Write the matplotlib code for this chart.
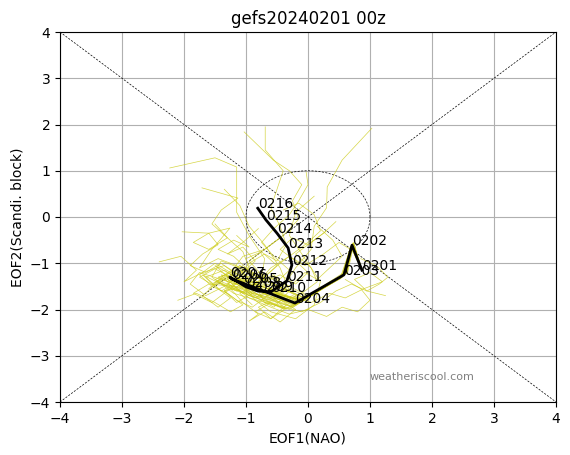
import numpy as np
import matplotlib
matplotlib.use("Agg")
import matplotlib.pyplot as plt

title = "gefs20240201 00z"
dates = ["0201", "0202", "0203", "0204", "0205", "0206", "0207", "0208",
         "0209", "0210", "0211", "0212", "0213", "0214", "0215", "0216"]

# ensemble mean trajectory (EOF1, EOF2)
mean_x = [0.87, 0.71, 0.58, -0.21, -1.05, -1.23, -1.26, -1.00,
          -0.81, -0.60, -0.34, -0.26, -0.32, -0.50, -0.68, -0.81]
mean_y = [-1.15, -0.61, -1.25, -1.86, -1.43, -1.34, -1.30, -1.51,
          -1.60, -1.62, -1.38, -1.04, -0.67, -0.35, -0.06, 0.19]

# individual members
members_x = [
    [0.87, 0.72, 0.62, -0.10, -0.85, -1.30, -1.50, -1.20, -0.90, -0.55, -0.30, -0.45, -0.70, -0.95, -1.10, -1.35],
    [0.87, 0.70, 0.55, -0.25, -1.10, -1.45, -1.20, -0.85, -0.60, -0.20, 0.10, 0.20, -0.05, -0.30, -0.20, 0.10],
    [0.87, 0.73, 0.60, -0.05, -0.70, -1.00, -0.80, -0.55, -0.40, -0.20, 0.05, 0.10, 0.30, 0.31, 0.55, 1.03],
    [0.87, 0.69, 0.52, -0.30, -1.20, -1.55, -1.40, -1.10, -0.75, -0.70, -0.95, -1.15, -1.15, -1.15, -1.50, -2.23],
    [0.87, 0.71, 0.58, -0.15, -0.90, -1.10, -0.95, -0.70, -0.50, -0.35, -0.45, -0.60, -0.50, -0.40, -0.69, -0.69],
    [0.87, 0.74, 0.64, 0.00, -0.60, -0.95, -1.25, -1.05, -0.70, -0.40, -0.15, -0.25, -0.10, -0.30, -0.56, -1.03],
    [0.87, 0.70, 0.57, -0.20, -1.00, -1.35, -1.65, -1.40, -1.20, -0.95, -1.05, -1.30, -1.55, -1.40, -1.13, -1.71],
    [0.87, 0.71, 0.56, -0.28, -1.15, -1.60, -1.85, -1.55, -1.25, -1.05, -1.35, -1.70, -2.00, -1.80, -2.05, -2.40],
    [0.87, 0.72, 0.59, -0.12, -0.95, -1.40, -1.20, -0.95, -1.15, -1.45, -1.75, -1.55, -1.39, -1.26, -1.60, -2.03],
    [0.87, 0.73, 0.63, -0.05, -0.80, -0.70, -0.40, -0.10, 0.20, 0.45, 0.70, 0.95, 1.15, 1.29, 1.10, 0.85],
    [0.87, 0.70, 0.54, -0.30, -0.95, -1.20, -0.95, -0.60, -0.30, 0.00, 0.30, 0.55, 0.80, 1.00, 0.85, 0.60],
    [0.87, 0.71, 0.60, -0.18, -0.90, -1.25, -1.05, -0.80, -0.95, -0.70, -0.45, -0.20, -0.50, -0.80, -0.60, -0.35],
    [0.87, 0.72, 0.61, -0.08, -0.75, -1.10, -1.30, -1.00, -0.70, -0.45, -0.25, 0.00, 0.20, 0.10, -0.15, -0.40],
    [0.87, 0.69, 0.53, -0.35, -1.25, -1.70, -1.50, -1.25, -1.45, -1.70, -1.45, -1.15, -0.85, -1.10, -1.35, -1.60],
    [0.87, 0.73, 0.62, -0.02, -0.65, -0.90, -0.65, -0.35, -0.55, -0.80, -0.60, -0.30, -0.05, 0.25, 0.50, 0.75],
    [0.87, 0.70, 0.56, -0.22, -1.05, -1.40, -1.75, -1.90, -1.65, -1.35, -1.10, -0.85, -1.05, -1.30, -1.05, -0.80],
    [0.87, 0.72, 0.58, -0.15, -0.85, -1.15, -1.00, -0.75, -0.50, -0.25, -0.05, 0.15, 0.35, 0.55, 0.40, 0.15],
    [0.87, 0.71, 0.59, -0.20, -1.00, -1.30, -1.55, -1.30, -1.05, -0.80, -0.55, -0.75, -0.95, -0.70, -0.45, -0.65],
    [0.87, 0.73, 0.61, -0.10, -0.80, -1.05, -0.80, -0.50, -0.30, -0.55, -0.75, -0.55, -0.30, -0.15, 0.00, -0.03],
    [0.87, 0.70, 0.55, -0.27, -1.10, -1.50, -1.25, -1.50, -1.75, -1.55, -1.30, -1.05, -1.25, -1.50, -1.80, -2.10],
    [0.87, 0.72, 0.60, -0.12, -0.90, -1.20, -1.45, -1.10, -0.85, -1.05, -1.30, -1.05, -0.75, -0.50, -0.75, -1.00],
    [0.87, 0.71, 0.57, -0.18, -0.95, -1.30, -1.10, -0.85, -0.60, -0.35, -0.10, 0.15, 0.05, -0.20, 0.05, 0.30],
    [0.87, 0.72, 0.59, -0.14, -0.88, -1.18, -1.40, -1.65, -1.90, -1.70, -1.45, -1.60, -1.85, -1.60, -1.30, -1.50],
    [0.87, 0.71, 0.61, -0.06, -0.72, -0.50, -0.25, 0.05, 0.35, 0.60, 0.90, 1.20, 1.00, 0.75, 0.95, 1.25],
    [0.87, 0.70, 0.56, -0.24, -1.02, -1.35, -1.15, -0.90, -1.10, -1.35, -1.15, -0.90, -0.65, -0.85, -1.10, -0.90],
    [0.87, 0.73, 0.62, -0.03, -0.68, -0.95, -0.70, -0.45, -0.20, 0.00, -0.20, -0.45, -0.25, 0.00, 0.25, 0.45],
    [0.87, 0.71, 0.57, -0.19, -0.97, -1.28, -1.52, -1.75, -1.50, -1.25, -1.00, -1.20, -1.45, -1.20, -0.95, -1.15],
    [0.87, 0.72, 0.60, -0.11, -0.82, -1.12, -0.88, -0.62, -0.38, -0.60, -0.85, -0.60, -0.35, -0.55, -0.30, -0.05],
]
members_y = [
    [-1.15, -0.58, -1.22, -1.80, -1.55, -1.20, -1.05, -1.40, -1.70, -1.95, -1.60, -1.10, -0.60, -0.20, 0.25, 0.60],
    [-1.15, -0.62, -1.30, -1.95, -1.60, -1.40, -1.25, -1.80, -2.05, -2.20, -1.90, -1.40, -0.90, -0.40, 0.10, 0.45],
    [-1.15, -0.55, -1.18, -1.75, -1.35, -1.10, -1.45, -1.60, -1.50, -1.10, -0.70, -0.20, 0.20, 0.65, 1.23, 1.92],
    [-1.15, -0.65, -1.32, -2.00, -1.65, -1.30, -0.95, -1.10, -1.35, -0.90, -0.40, 0.10, 0.58, 1.08, 1.28, 1.06],
    [-1.15, -0.60, -1.25, -1.85, -1.50, -1.25, -1.00, -0.80, -0.95, -0.60, -0.20, 0.20, 0.60, 1.00, 1.45, 1.95],
    [-1.15, -0.57, -1.20, -1.70, -1.30, -1.50, -1.20, -0.85, -0.70, -0.40, -0.05, 0.35, 0.70, 1.00, 1.23, 1.84],
    [-1.15, -0.60, -1.27, -1.90, -1.45, -1.15, -1.30, -1.60, -1.45, -1.10, -0.75, -0.45, -0.15, 0.15, 0.41, 0.63],
    [-1.15, -0.61, -1.29, -1.92, -1.50, -1.45, -1.65, -1.85, -1.55, -1.30, -1.05, -1.20, -1.40, -1.15, -0.85, -0.97],
    [-1.15, -0.59, -1.24, -1.82, -1.40, -1.25, -1.55, -1.35, -1.05, -0.90, -1.10, -0.70, -0.45, -0.24, -0.35, -0.32],
    [-1.15, -0.56, -1.20, -1.78, -1.60, -1.85, -1.95, -2.05, -1.85, -1.60, -1.45, -1.60, -1.45, -1.30, -1.05, -0.90],
    [-1.15, -0.63, -1.31, -1.97, -1.70, -1.50, -1.75, -1.95, -2.10, -2.00, -2.15, -1.95, -2.05, -1.80, -1.55, -1.35],
    [-1.15, -0.60, -1.23, -1.88, -1.65, -1.55, -1.85, -2.10, -2.25, -2.05, -2.27, -2.00, -1.75, -1.95, -2.20, -1.90],
    [-1.15, -0.58, -1.21, -1.78, -1.30, -1.05, -1.35, -1.55, -1.30, -1.00, -0.80, -0.55, -0.30, 0.05, 0.30, 0.15],
    [-1.15, -0.64, -1.33, -1.98, -1.55, -1.25, -1.50, -1.75, -1.95, -1.70, -1.40, -1.60, -1.35, -1.05, -1.25, -1.55],
    [-1.15, -0.57, -1.19, -1.76, -1.45, -1.60, -1.80, -1.55, -1.25, -1.40, -1.10, -0.85, -1.05, -0.80, -0.55, -0.75],
    [-1.15, -0.61, -1.28, -1.90, -1.50, -1.35, -1.20, -1.45, -1.70, -1.50, -1.25, -0.95, -0.65, -0.80, -0.55, -0.25],
    [-1.15, -0.59, -1.26, -1.84, -1.45, -1.30, -1.55, -1.40, -1.65, -1.45, -1.20, -1.35, -1.10, -0.85, -0.50, -0.20],
    [-1.15, -0.60, -1.24, -1.87, -1.40, -1.28, -1.45, -1.25, -1.50, -1.75, -1.50, -1.25, -0.95, -0.70, -0.45, -0.10],
    [-1.15, -0.58, -1.22, -1.80, -1.55, -1.35, -1.20, -1.40, -1.15, -0.85, -0.55, -0.25, 0.05, 0.35, 0.70, 0.97],
    [-1.15, -0.62, -1.30, -1.94, -1.55, -1.35, -1.20, -1.00, -1.25, -1.50, -1.65, -1.90, -2.05, -1.85, -1.65, -1.80],
    [-1.15, -0.59, -1.23, -1.83, -1.35, -1.45, -1.30, -1.15, -1.45, -1.65, -1.45, -1.25, -1.35, -1.05, -0.75, -0.90],
    [-1.15, -0.61, -1.27, -1.86, -1.50, -1.35, -1.60, -1.75, -1.55, -1.80, -1.65, -1.40, -1.10, -0.80, -0.55, -0.30],
    [-1.15, -0.60, -1.25, -1.84, -1.42, -1.22, -1.00, -1.20, -1.05, -0.80, -0.60, -0.35, -0.55, -0.70, -0.45, -0.15],
    [-1.15, -0.59, -1.22, -1.79, -1.65, -1.85, -1.70, -1.85, -1.65, -1.75, -1.55, -1.40, -1.20, -1.35, -1.60, -1.70],
    [-1.15, -0.62, -1.29, -1.91, -1.48, -1.60, -1.85, -1.65, -1.40, -1.60, -1.80, -1.95, -1.70, -1.45, -1.65, -1.90],
    [-1.15, -0.57, -1.20, -1.77, -1.38, -1.18, -1.40, -1.25, -1.45, -1.20, -0.95, -0.70, -0.45, -0.60, -0.35, -0.10],
    [-1.15, -0.61, -1.26, -1.88, -1.46, -1.32, -1.48, -1.30, -1.12, -1.30, -1.10, -0.85, -0.70, -0.50, -0.65, -0.40],
    [-1.15, -0.59, -1.23, -1.81, -1.52, -1.40, -1.62, -1.85, -2.00, -2.20, -2.05, -1.85, -2.00, -1.75, -1.55, -1.70],
]

fig = plt.figure(figsize=(5.7, 4.55), dpi=100)
ax = fig.add_axes([60 / 570, 1 - 402 / 455, 496 / 570, 370 / 455])

ax.set_xlim(-4, 4)
ax.set_ylim(-4, 4)
ax.grid(True, color="#b0b0b0", linewidth=0.8)
ax.set_axisbelow(True)

# diagonals and unit circle
ax.plot([-4, 4], [-4, 4], color="black", linestyle="--", linewidth=0.5, dashes=(3, 2))
ax.plot([-4, 4], [4, -4], color="black", linestyle="--", linewidth=0.5, dashes=(3, 2))
theta = np.linspace(0, 2 * np.pi, 200)
ax.plot(np.cos(theta), np.sin(theta), color="black", linestyle="--", linewidth=0.5, dashes=(3, 2))

for mx, my in zip(members_x, members_y):
    ax.plot(mx, my, color=(0.8, 0.8, 0.1), linewidth=0.5, alpha=0.8)

ax.plot(mean_x, mean_y, color="black", linewidth=2)
for d, x, y in zip(dates, mean_x, mean_y):
    ax.text(x, y, d, fontsize=10, color="black")

ax.text(1.0, -3.45, "weatheriscool.com", fontsize=8, color="grey", va="center")

ax.set_xticks(range(-4, 5))
ax.set_yticks(range(-4, 5))
ax.set_xlabel("EOF1(NAO)")
ax.set_ylabel("EOF2(Scandi. block)")
ax.set_title(title, fontsize=12)

fig.savefig("out.png", dpi=100)
